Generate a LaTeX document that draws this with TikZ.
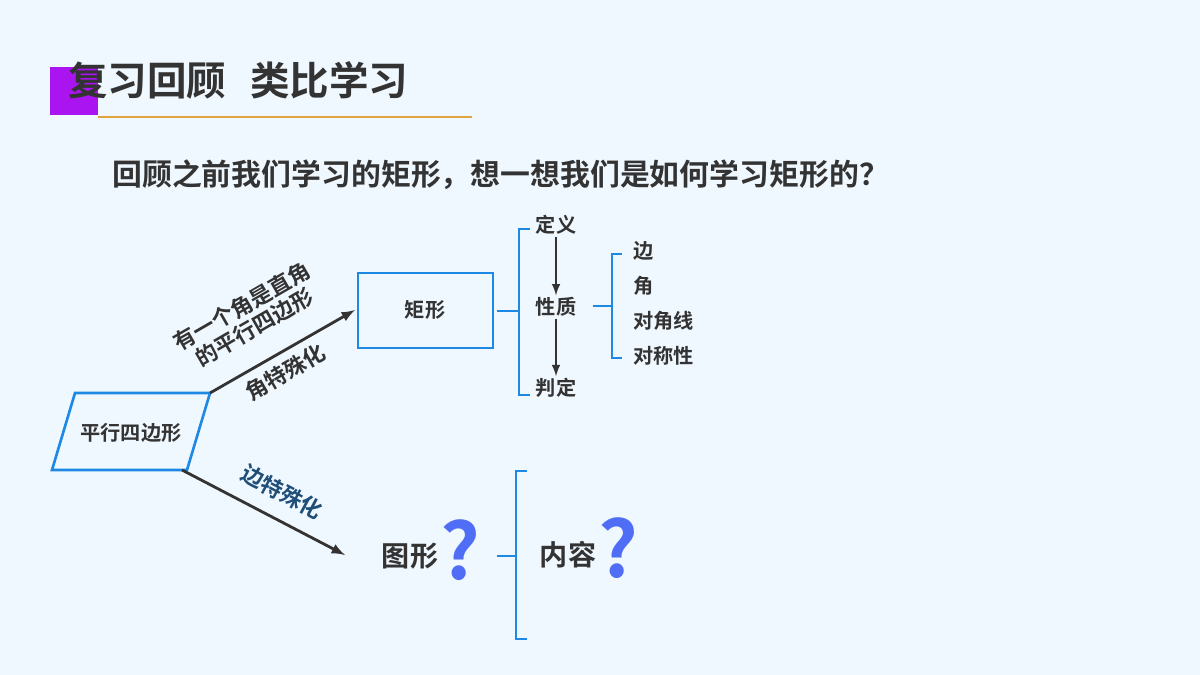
\documentclass[tikz,border=0pt]{standalone}
\usepackage{fontspec}
\setmainfont{Noto Sans CJK SC Bold}
\usetikzlibrary{arrows,calc}
\definecolor{bg}{RGB}{240,248,255}
\definecolor{lineblue}{RGB}{30,136,229}
\definecolor{ink}{RGB}{51,51,51}
\definecolor{qblue}{RGB}{80,110,245}
\definecolor{navy}{RGB}{31,78,121}
\definecolor{violet}{RGB}{170,20,240}
\definecolor{gold}{RGB}{225,165,60}
\tikzset{
  px/.style={x=0.02cm,y=-0.02cm},
  lab/.style={text=ink,font=\fontsize{11.5}{13}\selectfont,inner sep=1pt},
  brace/.style={lineblue,line width=1.5pt},
  pointer/.style={-latex,ink,line width=1.6pt},
  quest/.style={text=qblue,font=\fontsize{44}{44}\selectfont,inner sep=0pt}
}
\begin{document}
\begin{tikzpicture}[px]

\fill[bg] (0,0) rectangle (1200,675);

% title
\fill[violet] (50,67) rectangle (98,115);
\draw[gold,line width=0.8pt] (98,117) -- (472,117);
\node[anchor=west,text=ink,font=\fontsize{22.5}{24}\selectfont,inner sep=0] (title) at (68,80) {复习回顾\hspace{0.6em}类比学习};
\node[anchor=west,text=ink,font=\fontsize{17}{18}\selectfont,inner sep=0] (ask) at (112,175) {回顾之前我们学习的矩形，想一想我们是如何学习矩形的？};

% shapes
\draw[lineblue,line width=1.5pt] (52,470) -- (75,393) -- (210,393) -- (187,470) -- cycle;
\node[lab] (para) at (131,433) {平行四边形};
\coordinate (pup) at (210,393);
\coordinate (pdown) at (182,470);
\draw[lineblue,line width=1.5pt] (358,273) rectangle (493,348);
\node[lab] (rect) at (425,310) {矩形};
\coordinate (rin) at (355,310);
\coordinate (fig) at (345,555);

\draw[pointer] (pup) -- (rin);
\draw[pointer] (pdown) -- (fig);
\node[lab,rotate=30,align=center,font=\fontsize{12.5}{14}\selectfont] (cond) at (248,317) {有一个角是直角\\的平行四边形};
\node[lab,rotate=30,font=\fontsize{12.5}{14}\selectfont] (angsp) at (285,372) {角特殊化};
\node[lab,rotate=-28,text=navy,font=\fontsize{12.5}{14}\selectfont] (sidesp) at (282,492) {边特殊化};

% first bracket
\draw[brace] (497,311) -- (519,311);
\draw[brace] (530,229) -- (519,229) -- (519,395) -- (530,395);
\node[lab] (def) at (556,225) {定义};
\node[lab] (prop) at (556,307) {性质};
\node[lab] (judge) at (556,388) {判定};
\draw[pointer,line width=1.2pt] (def) -- (prop);
\draw[pointer,line width=1.2pt] (prop) -- (judge);

% second bracket
\draw[brace] (593,306) -- (612,306);
\draw[brace] (622,254) -- (612,254) -- (612,358) -- (622,358);
\foreach \y/\t/\n in {251/边/edge,286/角/corner,321/对角线/diag,356/对称性/sym}
  \node[lab,anchor=west] (\n) at (631,\y) {\t};

% lower part
\node[lab,font=\fontsize{16}{18}\selectfont] (shape) at (410,556) {图形};
\node[quest] (q1) at (460,550) {?};
\draw[brace] (497,556) -- (516,556);
\draw[brace] (527,471) -- (516,471) -- (516,639) -- (527,639);
\node[lab,font=\fontsize{16}{18}\selectfont] (cont) at (568,555) {内容};
\node[quest] (q2) at (618,548) {?};

\end{tikzpicture}
\end{document}
